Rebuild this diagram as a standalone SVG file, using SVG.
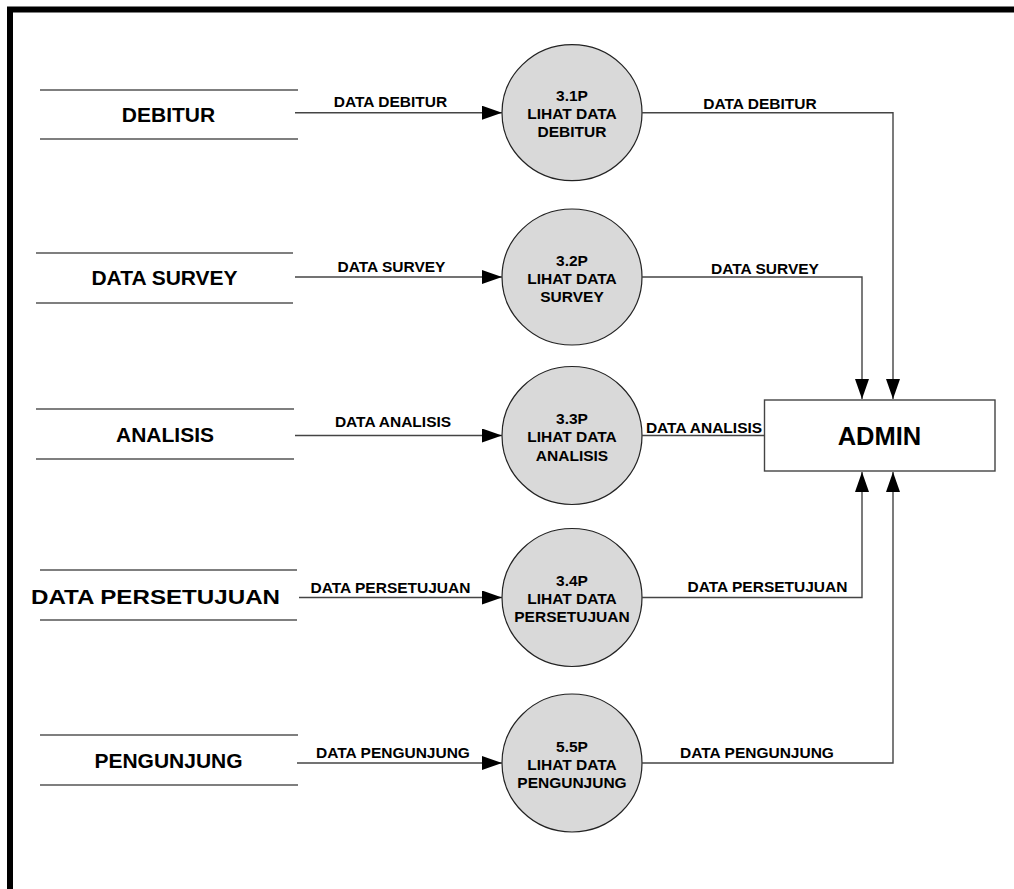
<svg xmlns="http://www.w3.org/2000/svg" width="1014" height="889" viewBox="0 0 1014 889">
<style>
text{font-family:"Liberation Sans",Arial,sans-serif;font-weight:bold;fill:#000}
.store line{stroke:#555;stroke-width:1.4}
.store text{font-size:21px;text-anchor:middle}
.proc ellipse{fill:#d9d9d9;stroke:#222;stroke-width:1.2}
.proc text{font-size:15.5px;text-anchor:middle}
.flow{fill:none;stroke:#444;stroke-width:1.4}
.lbl{font-size:15.5px;text-anchor:middle}
</style>
<defs>
<marker id="ah" viewBox="0 0 20 14" refX="20" refY="7" markerWidth="20" markerHeight="14" markerUnits="userSpaceOnUse" orient="auto">
<path d="M0,0 L20,7 L0,14 Z" fill="#000"/>
</marker>
</defs>
<rect width="1014" height="889" fill="#fff"/>
<path d="M10,889 V9.5 H1014" fill="none" stroke="#000" stroke-width="6"/>

<g id="store-debitur" class="store">
<line x1="40" y1="90" x2="298" y2="90"/><line x1="40" y1="139" x2="298" y2="139"/>
<text x="168.5" y="122">DEBITUR</text>
</g>
<g id="store-survey" class="store">
<line x1="36" y1="253" x2="293" y2="253"/><line x1="36" y1="303" x2="293" y2="303"/>
<text x="164.5" y="285">DATA SURVEY</text>
</g>
<g id="store-analisis" class="store">
<line x1="36" y1="409" x2="294" y2="409"/><line x1="36" y1="459" x2="294" y2="459"/>
<text x="165" y="441.5">ANALISIS</text>
</g>
<g id="store-persetujuan" class="store">
<line x1="40" y1="570" x2="297" y2="570"/><line x1="40" y1="620" x2="297" y2="620"/>
<text x="155.5" y="604" textLength="249" lengthAdjust="spacingAndGlyphs">DATA PERSETUJUAN</text>
</g>
<g id="store-pengunjung" class="store">
<line x1="40" y1="735" x2="298" y2="735"/><line x1="40" y1="785" x2="298" y2="785"/>
<text x="168.5" y="767.5">PENGUNJUNG</text>
</g>

<g id="p31" class="proc">
<ellipse cx="572" cy="112.7" rx="70" ry="68"/>
<text x="572" y="101">3.1P</text><text x="572" y="119">LIHAT DATA</text><text x="572" y="137">DEBITUR</text>
</g>
<g id="p32" class="proc">
<ellipse cx="572" cy="277" rx="70" ry="68"/>
<text x="572" y="265.5">3.2P</text><text x="572" y="283.5">LIHAT DATA</text><text x="572" y="301.5">SURVEY</text>
</g>
<g id="p33" class="proc">
<ellipse cx="572" cy="435.5" rx="70" ry="69"/>
<text x="572" y="423.5">3.3P</text><text x="572" y="442">LIHAT DATA</text><text x="572" y="460.5">ANALISIS</text>
</g>
<g id="p34" class="proc">
<ellipse cx="572" cy="597.5" rx="70" ry="69"/>
<text x="572" y="586">3.4P</text><text x="572" y="604">LIHAT DATA</text><text x="572" y="622">PERSETUJUAN</text>
</g>
<g id="p55" class="proc">
<ellipse cx="572" cy="763" rx="70" ry="69"/>
<text x="572" y="751.5">5.5P</text><text x="572" y="769.5">LIHAT DATA</text><text x="572" y="787.5">PENGUNJUNG</text>
</g>

<g id="admin">
<rect x="764.5" y="400" width="230.5" height="71" fill="#fff" stroke="#444" stroke-width="1.4"/>
<text x="879.5" y="444.5" font-size="25.5" text-anchor="middle">ADMIN</text>
</g>

<g id="connectors">
<path class="flow" d="M295,112.7 H502" marker-end="url(#ah)"/>
<path class="flow" d="M295,277 H502" marker-end="url(#ah)"/>
<path class="flow" d="M295,435.5 H502" marker-end="url(#ah)"/>
<path class="flow" d="M299,597.5 H502" marker-end="url(#ah)"/>
<path class="flow" d="M297,763 H502" marker-end="url(#ah)"/>
<path class="flow" d="M642,112.7 H893 V399" marker-end="url(#ah)"/>
<path class="flow" d="M642,277 H862 V399" marker-end="url(#ah)"/>
<path class="flow" d="M642,435.5 H764.5"/>
<path class="flow" d="M642,597.5 H862 V472" marker-end="url(#ah)"/>
<path class="flow" d="M642,763 H893 V472" marker-end="url(#ah)"/>
<text class="lbl" x="390.5" y="107">DATA DEBITUR</text>
<text class="lbl" x="391.5" y="272">DATA SURVEY</text>
<text class="lbl" x="393" y="427">DATA ANALISIS</text>
<text class="lbl" x="390.5" y="592.5">DATA PERSETUJUAN</text>
<text class="lbl" x="393" y="757.5">DATA PENGUNJUNG</text>
<text class="lbl" x="760" y="109">DATA DEBITUR</text>
<text class="lbl" x="765" y="274">DATA SURVEY</text>
<text class="lbl" x="704" y="433">DATA ANALISIS</text>
<text class="lbl" x="767.5" y="591.5">DATA PERSETUJUAN</text>
<text class="lbl" x="757" y="757.5">DATA PENGUNJUNG</text>
</g>
</svg>
